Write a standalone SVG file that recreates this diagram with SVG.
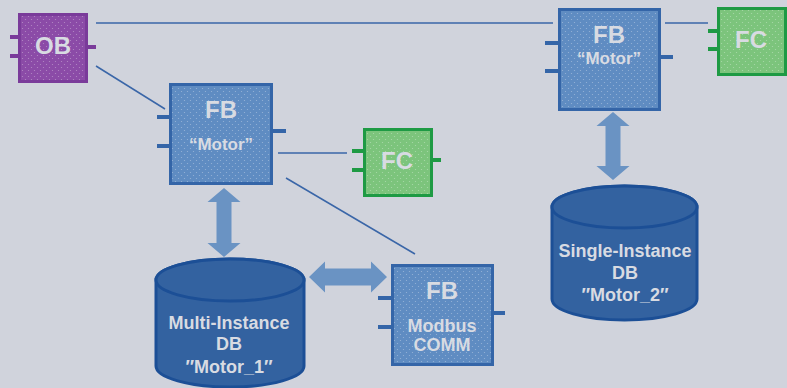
<svg xmlns="http://www.w3.org/2000/svg" width="787" height="388" viewBox="0 0 787 388">
<defs>
<pattern id="dots" width="6" height="6" patternUnits="userSpaceOnUse">
<circle cx="1.5" cy="1.5" r="0.6" fill="#ffffff" fill-opacity="0.35"/>
<circle cx="4.5" cy="4.5" r="0.6" fill="#ffffff" fill-opacity="0.35"/>
</pattern>
<style>
.conn{stroke:#3a66a8;stroke-width:1.5;fill:none}
.ob{fill:#8b4ba7;stroke:#7a3b9a;stroke-width:3}
.obpin{stroke:#7a3b9a;stroke-width:4}
.fb{fill:#5f8cc2;stroke:#3465a8;stroke-width:3}
.fbpin{stroke:#3465a8;stroke-width:4}
.fc{fill:#7cc47c;stroke:#1e9a44;stroke-width:3}
.fcpin{stroke:#1e9a44;stroke-width:4}
.tex{fill:url(#dots);stroke:none}
.cyl{fill:#3362a0;stroke:#1c4f96;stroke-width:3}
.arr{fill:#6a93c3}
text{font-family:"Liberation Sans",Arial,sans-serif;font-weight:bold;fill:#d8dbe2;text-anchor:middle}
.big{font-size:24px}
.mid{font-size:18px}
.sm{font-size:17px}
</style>
</defs>
<rect width="787" height="388" fill="#d0d3dc"/>
<g id="connectors">
<line class="conn" x1="96" y1="23" x2="553" y2="23"/>
<line class="conn" x1="96" y1="66" x2="165" y2="109"/>
<line class="conn" x1="278" y1="153" x2="347" y2="153"/>
<line class="conn" x1="286" y1="178" x2="415" y2="254"/>
<line class="conn" x1="665" y1="23" x2="708" y2="23"/>
<polygon class="arr" points="224,188 240.5,202 231.5,202 231.5,243 240.5,243 224,257 207.5,243 216.5,243 216.5,202 207.5,202"/>
<polygon class="arr" points="613,112 629.5,126 620.5,126 620.5,166 629.5,166 613,180 596.5,166 605.5,166 605.5,126 596.5,126"/>
<polygon class="arr" points="309,277 325,261.5 325,268.5 371,268.5 371,261.5 387,277 371,292.5 371,285.5 325,285.5 325,292.5"/>
</g>
<g id="ob">
<line class="obpin" x1="10" y1="37" x2="19" y2="37"/>
<line class="obpin" x1="10" y1="56" x2="19" y2="56"/>
<line class="obpin" x1="87" y1="47" x2="96" y2="47"/>
<rect class="ob" x="19.5" y="14.5" width="67" height="67"/>
<rect class="tex" x="21" y="16" width="64" height="64"/>
<text class="big" x="53" y="54">OB</text>
</g>
<g id="fb-motor-left">
<line class="fbpin" x1="157" y1="117" x2="170" y2="117"/>
<line class="fbpin" x1="157" y1="146" x2="170" y2="146"/>
<line class="fbpin" x1="272" y1="131" x2="286" y2="131"/>
<rect class="fb" x="170.5" y="84.5" width="101" height="99"/>
<rect class="tex" x="172" y="86" width="98" height="96"/>
<text class="big" x="221" y="118">FB</text>
<text class="sm" x="221" y="150">“Motor”</text>
</g>
<g id="fc-left">
<line class="fcpin" x1="352" y1="151" x2="364" y2="151"/>
<line class="fcpin" x1="352" y1="170" x2="364" y2="170"/>
<line class="fcpin" x1="432" y1="160" x2="441" y2="160"/>
<rect class="fc" x="364.5" y="129.5" width="67" height="66"/>
<rect class="tex" x="366" y="131" width="64" height="63"/>
<text class="big" x="397" y="169">FC</text>
</g>
<g id="fb-modbus">
<line class="fbpin" x1="378" y1="298" x2="392" y2="298"/>
<line class="fbpin" x1="378" y1="327" x2="392" y2="327"/>
<line class="fbpin" x1="493" y1="313" x2="505" y2="313"/>
<rect class="fb" x="392.5" y="265.5" width="100" height="99"/>
<rect class="tex" x="394" y="267" width="97" height="96"/>
<text class="big" x="442" y="299">FB</text>
<text class="mid" x="442" y="332">Modbus</text>
<text class="mid" x="442" y="351">COMM</text>
</g>
<g id="db-multi">
<path class="cyl" d="M156,280 L156,366 A74,21 0 0 0 304,366 L304,280 A74,21 0 0 0 156,280 Z"/>
<ellipse class="cyl" cx="230" cy="280" rx="74" ry="21"/>
<text class="mid" x="229" y="329">Multi-Instance</text>
<text class="mid" x="229" y="350">DB</text>
<text class="mid" x="229" y="373">″Motor_1″</text>
</g>
<g id="fb-motor-right">
<line class="fbpin" x1="545" y1="43" x2="559" y2="43"/>
<line class="fbpin" x1="545" y1="71" x2="559" y2="71"/>
<line class="fbpin" x1="660" y1="57" x2="673" y2="57"/>
<rect class="fb" x="559.5" y="9.5" width="100" height="100"/>
<rect class="tex" x="561" y="11" width="97" height="97"/>
<text class="big" x="609" y="43">FB</text>
<text class="sm" x="609" y="64">“Motor”</text>
</g>
<g id="fc-right">
<line class="fcpin" x1="708" y1="31" x2="718" y2="31"/>
<line class="fcpin" x1="708" y1="49" x2="718" y2="49"/>
<rect class="fc" x="718.5" y="8.5" width="67" height="66"/>
<rect class="tex" x="720" y="10" width="64" height="63"/>
<text class="big" x="751" y="48">FC</text>
</g>
<g id="db-single">
<path class="cyl" d="M552,207 L552,299 A72.5,21 0 0 0 697,299 L697,207 A72.5,21 0 0 0 552,207 Z"/>
<ellipse class="cyl" cx="624.5" cy="207" rx="72.5" ry="21"/>
<text class="mid" x="625" y="257">Single-Instance</text>
<text class="mid" x="625" y="279">DB</text>
<text class="mid" x="625" y="301">″Motor_2″</text>
</g>
</svg>
